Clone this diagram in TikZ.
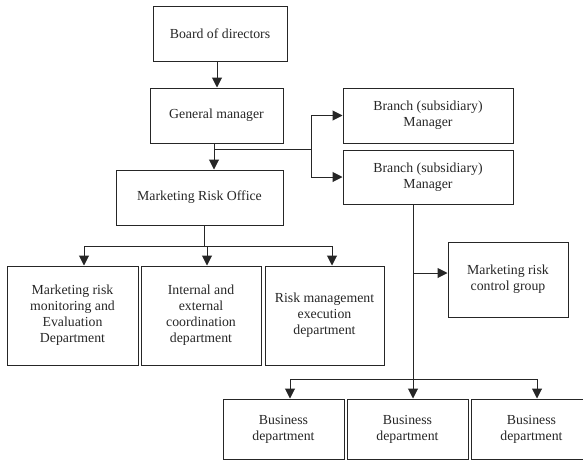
\documentclass[tikz,border=0pt]{standalone}
\usepackage{fontspec}
\setmainfont{Liberation Serif}
\usetikzlibrary{arrows.meta}
\begin{document}
\begin{tikzpicture}[x=1pt,y=-1pt,
  box/.style={draw=black!85, line width=1pt, rectangle, inner sep=0pt, align=center,
    font=\fontsize{13.8}{16}\selectfont, text=black!85},
  arr/.style={draw=black!85, line width=1pt, -{Triangle[length=10pt,width=10pt]}},
  ln/.style={draw=black!85, line width=1pt}]
\useasboundingbox (0,0) rectangle (583,461);
% nodes
\node[box, minimum width=134pt, minimum height=55pt] (board) at (220,33.5) {Board of directors};
\node[box, minimum width=133pt, minimum height=55pt] (gm) at (216.5,115.5) {General manager};
\node[box, minimum width=170pt, minimum height=55pt] (br1) at (428,115.5) {Branch (subsidiary)\\Manager};
\node[box, minimum width=170pt, minimum height=54pt] (br2) at (428,177) {Branch (subsidiary)\\Manager};
\node[box, minimum width=167pt, minimum height=55pt] (mro) at (199.5,197.5) {Marketing Risk Office};
\node[box, minimum width=131pt, minimum height=99pt] (deptA) at (72.5,315.5) {Marketing risk\\monitoring and\\Evaluation\\Department};
\node[box, minimum width=120pt, minimum height=99pt] (deptB) at (201,315.5) {Internal and\\external\\coordination\\department};
\node[box, minimum width=119pt, minimum height=99pt] (deptC) at (324.5,315.5) {Risk management\\execution\\department};
\node[box, minimum width=120pt, minimum height=75pt] (ctrl) at (508,279.5) {Marketing risk\\control group};
\node[box, minimum width=121pt, minimum height=60pt] (bus1) at (283.5,429) {Business\\department};
\node[box, minimum width=121pt, minimum height=60pt] (bus2) at (407.5,429) {Business\\department};
\node[box, minimum width=121pt, minimum height=60pt] (bus3) at (531.5,429) {Business\\department};
% helper coordinates
\coordinate (xb) at (217,0);
\coordinate (xg) at (214,0);
\coordinate (jg) at (214,149);
\coordinate (jb) at (311,149);
\coordinate (xm) at (204,0);
\coordinate (jm) at (204,246);
\coordinate (hA) at (84,246);
\coordinate (hC) at (332,246);
\coordinate (xB) at (207,0);
\coordinate (xr) at (413,0);
\coordinate (jc) at (413,273);
\coordinate (jl) at (290,379);
\coordinate (jr) at (537,379);
\coordinate (jmid) at (413,379);
% connectors
\draw[arr] (board.south -| xb) -- (gm.north -| xb);
\draw[arr] (gm.south -| xg) -- (mro.north -| xg);
\draw[ln] (jg) -- (jb);
\draw[arr] (jb) |- (br1.west);
\draw[arr] (jb) |- (br2.west);
\draw[ln] (mro.south -| xm) -- (jm);
\draw[arr] (jm) -- (hA) -- (deptA.north -| hA);
\draw[arr] (jm) -- (hC) -- (deptC.north -| hC);
\draw[arr] (jm -| xB) -- (deptB.north -| xB);
\draw[arr] (br2.south -| xr) -- (bus2.north -| xr);
\draw[arr] (jc) -- (ctrl.west |- jc);
\draw[arr] (jmid) -- (jl) -- (bus1.north -| jl);
\draw[arr] (jmid) -- (jr) -- (bus3.north -| jr);
\end{tikzpicture}
\end{document}
